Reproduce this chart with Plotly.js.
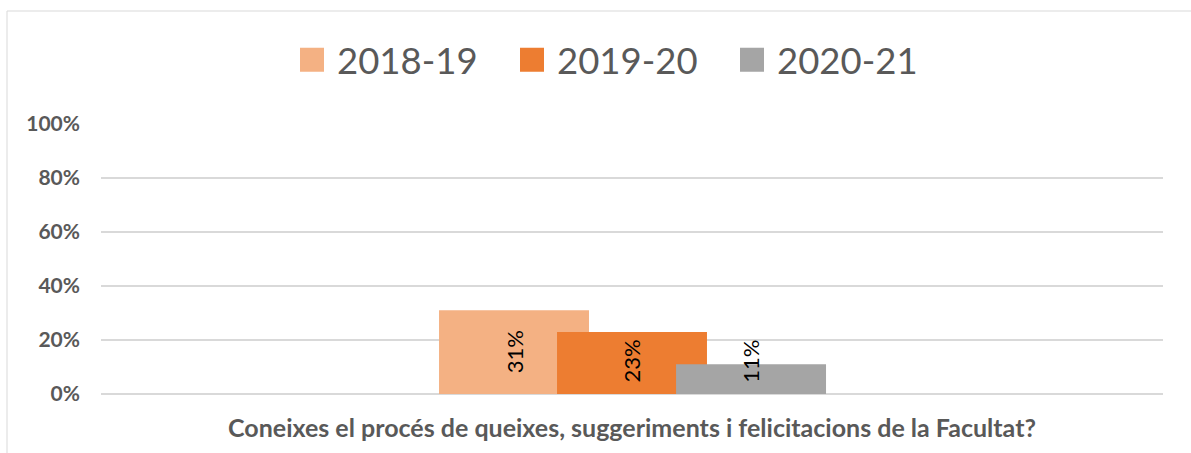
<!DOCTYPE html>
<html>
<head>
<meta charset="utf-8">
<script src="https://cdn.plot.ly/plotly-3.0.1.min.js"></script>
<style>html,body{margin:0;padding:0;background:#fff;}#chart{width:1191px;height:453px;}</style>
</head>
<body>
<div id="chart"></div>
<script>
var categories = ["Coneixes el procés de queixes, suggeriments i felicitacions de la Facultat?"];
var seriesNames = ["2018-19", "2019-20", "2020-21"];
var values2018 = [0.31];
var values2019 = [0.23];
var values2020 = [0.11];
var yTickValues = [0, 0.2, 0.4, 0.6, 0.8, 1.0];
var yTickLabels = ["0%", "20%", "40%", "60%", "80%", "100%"];

var seriesValues = [values2018, values2019, values2020];
var colors = ["#F4B183", "#ED7D31", "#A5A5A5"];
var offsets = [-0.1817, -0.0706, 0.0415];
var barWidth = 0.1412;
var plotWidthPx = 1191 - 101 - 28;
var FONT = "Lato, 'Open Sans', sans-serif";

var data = seriesNames.map(function (name, i) {
  return {
    type: "bar",
    name: name,
    x: categories,
    y: seriesValues[i],
    width: barWidth,
    offset: offsets[i],
    marker: {color: colors[i]},
    hoverinfo: "skip"
  };
});

// value labels, rotated, centred on each bar (kept clear of the axis for short bars)
var annotations = [];
seriesValues.forEach(function (vals, i) {
  vals.forEach(function (v, j) {
    annotations.push({
      x: categories[j], xref: "x",
      y: Math.max(v / 2, 0.12), yref: "y",
      text: Math.round(v * 100) + "%",
      showarrow: false,
      textangle: -90,
      xanchor: "center", yanchor: "middle",
      xshift: (offsets[i] + barWidth / 2) * plotWidthPx,
      font: {family: FONT, size: 22, color: "#000000"}
    });
  });
});

var layout = {
  width: 1191,
  height: 453,
  margin: {l: 101, r: 28, t: 124, b: 59, pad: 0},
  paper_bgcolor: "#ffffff",
  plot_bgcolor: "#ffffff",
  barmode: "overlay",
  font: {family: FONT, color: "#595959"},
  showlegend: true,
  legend: {
    orientation: "h",
    xref: "container", yref: "container",
    x: 627 / 1191, xanchor: "center",
    y: 1 - 60 / 453, yanchor: "middle",
    font: {family: FONT, size: 36.5, color: "#595959"},
    entrywidth: 175, entrywidthmode: "pixels",
    traceorder: "normal",
    itemclick: false, itemdoubleclick: false
  },
  annotations: annotations,
  xaxis: {
    type: "category",
    range: [-0.5, 0.5],
    showgrid: false,
    zeroline: false,
    showline: false,
    ticks: "",
    ticklabelstandoff: 17,
    tickfont: {family: FONT, size: 25, color: "#595959", weight: "bold"},
    fixedrange: true
  },
  yaxis: {
    range: [0, 1],
    tickvals: yTickValues,
    ticktext: yTickLabels,
    showgrid: true,
    gridcolor: "#d9d9d9",
    gridwidth: 1.3,
    zeroline: true,
    zerolinecolor: "#d9d9d9",
    zerolinewidth: 1.3,
    showline: false,
    ticks: "",
    ticklabelstandoff: 20,
    tickfont: {family: FONT, size: 21, color: "#595959", weight: "bold"},
    fixedrange: true
  },
  shapes: [{
    type: "rect",
    xref: "paper", yref: "paper",
    x0: (7 - 101) / 1062, x1: (1200 - 101) / 1062,
    y0: (394 - 470) / 270, y1: (394 - 11) / 270,
    line: {color: "#d9d9d9", width: 1},
    fillcolor: "rgba(0,0,0,0)",
    layer: "below"
  }]
};

Plotly.newPlot("chart", data, layout, {staticPlot: true, displayModeBar: false}).then(function () {
  var pts = document.querySelectorAll(".legend .legendpoints path");
  pts.forEach(function (p) {
    var t = p.getAttribute("transform") || "";
    p.setAttribute("transform", t + " translate(-5,0) scale(2)");
  });
});
</script>
</body>
</html>
